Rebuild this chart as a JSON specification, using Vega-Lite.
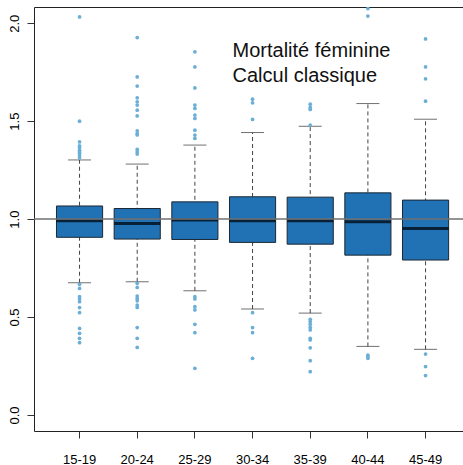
{
  "$schema": "https://vega.github.io/schema/vega-lite/v6.json",
  "width": 429,
  "height": 424,
  "autosize": {"type": "none"},
  "padding": {"left": 34, "top": 7, "right": 0, "bottom": 34},
  "config": {
    "view": {"stroke": null},
    "font": "Liberation Sans",
    "axisY": {"grid": false, "labelAngle": 270, "labelAlign": "center", "labelBaseline": "bottom", "labelFontSize": 13, "labelColor": "#000000",
      "labelPadding": 6, "tickSize": 7, "tickColor": "#333333", "domain": true, "domainColor": "#222222", "labelFont": "Liberation Sans", "title": null}
  },
  "datasets": {
    "boxes": [
      {"group": "15-19", "lower": 0.675, "q1": 0.907, "median": 0.992, "q3": 1.067, "upper": 1.302},
      {"group": "20-24", "lower": 0.680, "q1": 0.898, "median": 0.978, "q3": 1.054, "upper": 1.281},
      {"group": "25-29", "lower": 0.634, "q1": 0.896, "median": 0.995, "q3": 1.088, "upper": 1.378},
      {"group": "30-34", "lower": 0.541, "q1": 0.881, "median": 0.992, "q3": 1.114, "upper": 1.442},
      {"group": "35-39", "lower": 0.520, "q1": 0.872, "median": 0.991, "q3": 1.112, "upper": 1.474},
      {"group": "40-44", "lower": 0.350, "q1": 0.816, "median": 0.986, "q3": 1.134, "upper": 1.590},
      {"group": "45-49", "lower": 0.335, "q1": 0.791, "median": 0.952, "q3": 1.097, "upper": 1.510}
    ],
    "outliers": [
      {"group": "15-19", "value": 2.032}, {"group": "15-19", "value": 1.500}, {"group": "15-19", "value": 1.394}, {"group": "15-19", "value": 1.374}, {"group": "15-19", "value": 1.366}, {"group": "15-19", "value": 1.352}, {"group": "15-19", "value": 1.343}, {"group": "15-19", "value": 1.335}, {"group": "15-19", "value": 1.323}, {"group": "15-19", "value": 1.313},
      {"group": "15-19", "value": 0.667}, {"group": "15-19", "value": 0.646}, {"group": "15-19", "value": 0.604}, {"group": "15-19", "value": 0.592}, {"group": "15-19", "value": 0.578}, {"group": "15-19", "value": 0.548}, {"group": "15-19", "value": 0.522}, {"group": "15-19", "value": 0.442}, {"group": "15-19", "value": 0.417}, {"group": "15-19", "value": 0.391}, {"group": "15-19", "value": 0.369},
      {"group": "20-24", "value": 1.927}, {"group": "20-24", "value": 1.726}, {"group": "20-24", "value": 1.679}, {"group": "20-24", "value": 1.619}, {"group": "20-24", "value": 1.599}, {"group": "20-24", "value": 1.582}, {"group": "20-24", "value": 1.556}, {"group": "20-24", "value": 1.527}, {"group": "20-24", "value": 1.451}, {"group": "20-24", "value": 1.437}, {"group": "20-24", "value": 1.430}, {"group": "20-24", "value": 1.356}, {"group": "20-24", "value": 1.343}, {"group": "20-24", "value": 1.332},
      {"group": "20-24", "value": 0.672}, {"group": "20-24", "value": 0.651}, {"group": "20-24", "value": 0.607}, {"group": "20-24", "value": 0.595}, {"group": "20-24", "value": 0.583}, {"group": "20-24", "value": 0.561}, {"group": "20-24", "value": 0.549}, {"group": "20-24", "value": 0.446}, {"group": "20-24", "value": 0.391}, {"group": "20-24", "value": 0.345},
      {"group": "25-29", "value": 1.854}, {"group": "25-29", "value": 1.777}, {"group": "25-29", "value": 1.670}, {"group": "25-29", "value": 1.582}, {"group": "25-29", "value": 1.565}, {"group": "25-29", "value": 1.531}, {"group": "25-29", "value": 1.514}, {"group": "25-29", "value": 1.454}, {"group": "25-29", "value": 1.429}, {"group": "25-29", "value": 1.412},
      {"group": "25-29", "value": 0.604}, {"group": "25-29", "value": 0.592}, {"group": "25-29", "value": 0.553}, {"group": "25-29", "value": 0.536}, {"group": "25-29", "value": 0.463}, {"group": "25-29", "value": 0.420}, {"group": "25-29", "value": 0.238},
      {"group": "30-34", "value": 1.612}, {"group": "30-34", "value": 1.594}, {"group": "30-34", "value": 1.509}, {"group": "30-34", "value": 0.522}, {"group": "30-34", "value": 0.446}, {"group": "30-34", "value": 0.420}, {"group": "30-34", "value": 0.289},
      {"group": "35-39", "value": 1.587}, {"group": "35-39", "value": 1.570}, {"group": "35-39", "value": 1.560}, {"group": "35-39", "value": 1.480}, {"group": "35-39", "value": 0.488}, {"group": "35-39", "value": 0.476}, {"group": "35-39", "value": 0.463}, {"group": "35-39", "value": 0.447}, {"group": "35-39", "value": 0.434}, {"group": "35-39", "value": 0.391}, {"group": "35-39", "value": 0.383}, {"group": "35-39", "value": 0.343}, {"group": "35-39", "value": 0.277}, {"group": "35-39", "value": 0.221},
      {"group": "40-44", "value": 2.075}, {"group": "40-44", "value": 2.037}, {"group": "40-44", "value": 0.306}, {"group": "40-44", "value": 0.298}, {"group": "40-44", "value": 0.289},
      {"group": "45-49", "value": 1.920}, {"group": "45-49", "value": 1.777}, {"group": "45-49", "value": 1.716}, {"group": "45-49", "value": 1.602}, {"group": "45-49", "value": 0.311}, {"group": "45-49", "value": 0.247}, {"group": "45-49", "value": 0.201}
    ]
  },
  "resolve": {"axis": {"x": "independent"}},
  "layer": [
    {
      "data": {"name": "boxes"},
      "mark": {"type": "rule", "color": "#444444", "strokeWidth": 1, "strokeDash": [4, 3]},
      "encoding": {
        "x": {"field": "group", "type": "nominal", "sort": null,
          "scale": {"domain": ["15-19", "20-24", "25-29", "30-34", "35-39", "40-44", "45-49"], "paddingInner": 0.2, "paddingOuter": 0.3195, "align": 0.61},
          "axis": {"orient": "top", "labels": false, "ticks": false, "domain": true, "domainColor": "#222222", "domainWidth": 1, "title": null, "grid": false}},
        "y": {"field": "lower", "type": "quantitative", "title": null,
          "scale": {"domain": [-0.082, 2.083], "nice": false, "zero": false},
          "axis": {"orient": "left", "values": [0, 0.5, 1, 1.5, 2], "format": ".1f", "title": null}},
        "y2": {"field": "upper"}
      }
    },
    {
      "data": {"name": "boxes"},
      "mark": {"type": "tick", "color": "#333333", "size": 23, "thickness": 1},
      "encoding": {
        "x": {"field": "group", "type": "nominal", "sort": null, "axis": null},
        "y": {"field": "upper", "type": "quantitative", "title": null}
      }
    },
    {
      "data": {"name": "boxes"},
      "mark": {"type": "tick", "color": "#333333", "size": 23, "thickness": 1},
      "encoding": {
        "x": {"field": "group", "type": "nominal", "sort": null, "axis": null},
        "y": {"field": "lower", "type": "quantitative", "title": null}
      }
    },
    {
      "data": {"name": "boxes"},
      "mark": {"type": "bar", "fill": "#2171b5", "stroke": "#1c2833", "strokeWidth": 1},
      "encoding": {
        "x": {"field": "group", "type": "nominal", "sort": null,
          "axis": {"orient": "bottom", "title": null, "labelAngle": 0, "labelFontSize": 13, "labelColor": "#000000", "labelFont": "Liberation Sans",
            "labelPadding": 15, "tickSize": 7, "tickColor": "#333333", "domainColor": "#222222", "grid": false}},
        "y": {"field": "q1", "type": "quantitative", "title": null},
        "y2": {"field": "q3"}
      }
    },
    {
      "data": {"name": "boxes"},
      "mark": {"type": "tick", "color": "#000000", "size": 46, "thickness": 3},
      "encoding": {
        "x": {"field": "group", "type": "nominal", "sort": null, "axis": null},
        "y": {"field": "median", "type": "quantitative", "title": null}
      }
    },
    {
      "data": {"name": "outliers"},
      "mark": {"type": "circle", "color": "#6baed6", "opacity": 1, "size": 14, "clip": true},
      "encoding": {
        "x": {"field": "group", "type": "nominal", "sort": null, "axis": null},
        "y": {"field": "value", "type": "quantitative", "title": null}
      }
    },
    {
      "data": {"values": [{"ref": "reference"}]},
      "mark": {"type": "rule", "color": "#707070", "strokeWidth": 1.5},
      "encoding": {
        "y": {"datum": 1, "type": "quantitative", "title": null}
      }
    },
    {
      "data": {"values": [{"label": "Mortalité féminine\nCalcul classique"}]},
      "mark": {"type": "text", "align": "left", "baseline": "alphabetic", "fontSize": 20, "font": "Liberation Sans", "color": "#111111", "lineBreak": "\n", "lineHeight": 25, "dx": -20},
      "encoding": {
        "x": {"datum": "30-34", "type": "nominal", "axis": null},
        "y": {"datum": 1.83, "type": "quantitative", "title": null},
        "text": {"field": "label", "type": "nominal"}
      }
    }
  ]
}
